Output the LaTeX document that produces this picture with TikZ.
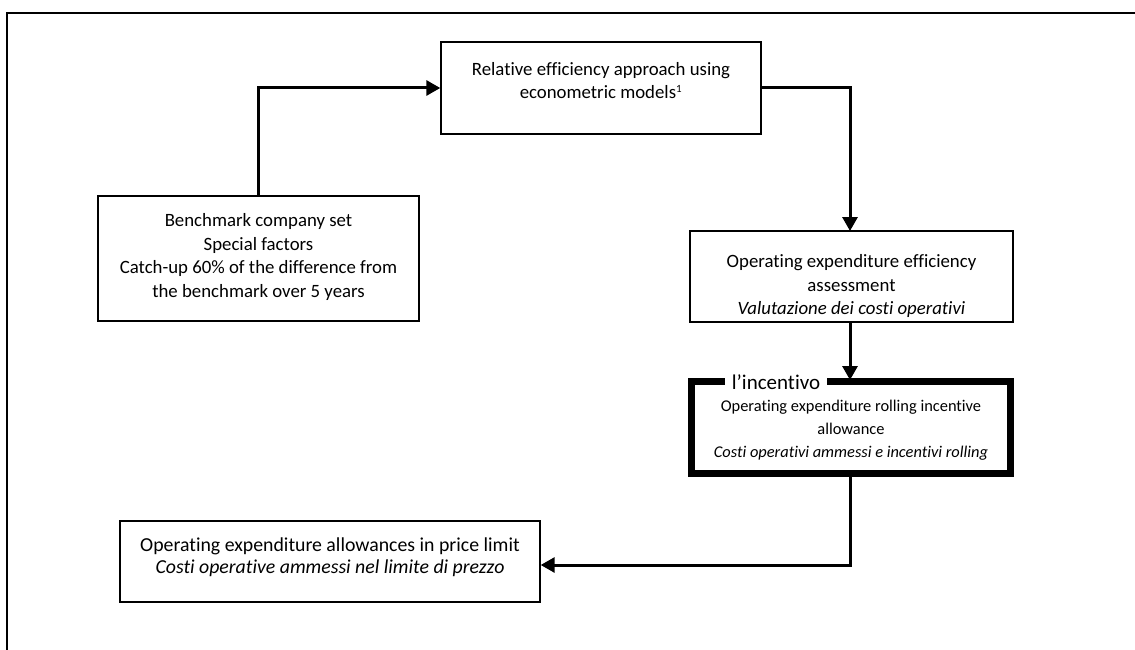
\documentclass[tikz,border=0pt]{standalone}
\usepackage{fontspec}
\setmainfont{Carlito}[Ligatures={NoCommon,NoContextual}]
\usetikzlibrary{arrows.meta}
\begin{document}
\begin{tikzpicture}[x=1pt,y=-1pt,
  box/.style={draw=black, line width=1.4pt, inner sep=0pt, fill=white},
  thickbox/.style={draw=black, line width=7pt, inner sep=0pt, fill=white},
  txt/.style={align=center, inner sep=0pt, font=\fontsize{18.8}{23.5}\selectfont},
  smalltxt/.style={align=center, inner sep=0pt, font=\fontsize{16.4}{23}\selectfont},
  bigtxt/.style={align=center, inner sep=0pt, font=\fontsize{19.8}{22.5}\selectfont},
  conn/.style={line width=3pt, -{Triangle[length=14pt,width=15pt]}}
]
\useasboundingbox (0,0) rectangle (1135,650);
% outer frame
\coordinate (fbl) at (7,651);
\coordinate (ftl) at (7,13);
\coordinate (ftr) at (1136,13);
\draw[line width=1.5pt] (fbl) -- (ftl) -- (ftr);

% boxes
\node[box, minimum width=320pt, minimum height=92pt] (b1) at (601,88) {};
\node[txt] (t1) at (601,80.5) {Relative efficiency approach using\\econometric models\textsuperscript{\fontsize{11}{11}\selectfont 1}};

\node[box, minimum width=321pt, minimum height=125pt] (b2) at (258.5,258.5) {};
\node[txt] (t2) at (258.5,257) {Benchmark company set\\Special factors\\Catch-up 60\% of the difference from\\the benchmark over 5 years};

\node[box, minimum width=323pt, minimum height=91pt] (b3) at (851.5,276.5) {};
\node[txt] (t3) at (851.5,286) {Operating expenditure efficiency\\assessment\\\textit{Valutazione dei costi operativi}};

\node[thickbox, minimum width=319pt, minimum height=92pt] (b4) at (851,427.5) {};
\node[smalltxt] (t4) at (851,430) {Operating expenditure rolling incentive\\allowance\\\textit{Costi operativi ammessi e incentivi rolling}};
\node[fill=white, inner xsep=7pt, inner ysep=2pt, font=\fontsize{21}{22}\selectfont] (lab) at (776,382) {l’incentivo};

\node[box, minimum width=420pt, minimum height=81pt] (b5) at (330,561.5) {};
\node[bigtxt] (t5) at (330,557) {Operating expenditure allowances in price limit\\\textit{Costi operative ammessi nel limite di prezzo}};

% connectors
\coordinate (c1) at (b2.north |- b1.west);
\draw[conn] (b2.north) -- (c1) -- (b1.west);
\coordinate (c2) at (850,88);
\coordinate (c2b) at (850,231);
\draw[conn] (b1.east) -- (c2) -- (c2b);
\coordinate (c3a) at (850,322);
\coordinate (c3b) at (850,380);
\draw[conn] (c3a) -- (c3b);
\coordinate (c4a) at (850,477);
\coordinate (c4b) at (850,565);
\coordinate (c4c) at (b5.east |- c4b);
\draw[conn] (c4a) -- (c4b) -- (c4c);
\end{tikzpicture}
\end{document}
